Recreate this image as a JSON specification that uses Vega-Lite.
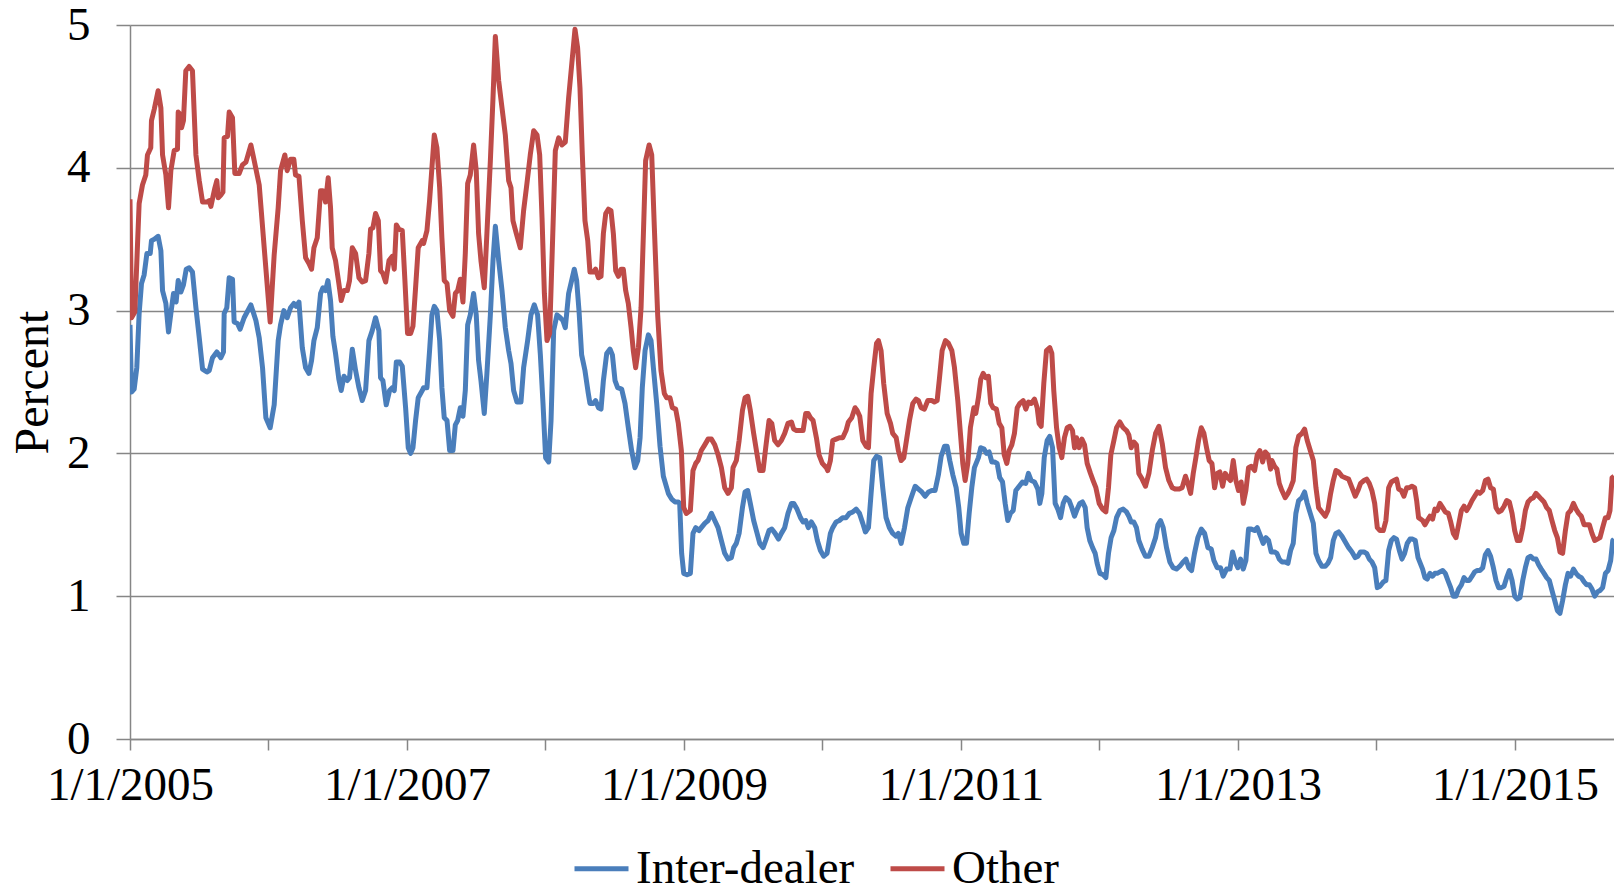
{
  "$schema": "https://vega.github.io/schema/vega-lite/v6.json",
  "width": 1484,
  "height": 714,
  "autosize": {"type": "none"},
  "padding": {"left": 130, "top": 25, "right": 0, "bottom": 146},
  "background": "white",
  "config": {"view": {"stroke": null}, "font": "Liberation Serif"},
  "datasets": {
    "other": [
      [2005.000,3.78],[2005.011,2.95],[2005.035,2.99],[2005.066,3.75],[2005.090,3.88],[2005.114,3.95],[2005.126,4.09],[2005.150,4.14],[2005.155,4.33],[2005.175,4.41],[2005.203,4.54],[2005.223,4.42],[2005.235,4.09],[2005.259,3.95],[2005.278,3.72],[2005.295,3.98],[2005.319,4.12],[2005.343,4.13],[2005.348,4.39],[2005.367,4.37],[2005.372,4.28],[2005.386,4.33],[2005.403,4.68],[2005.427,4.71],[2005.451,4.68],[2005.476,4.09],[2005.500,3.91],[2005.524,3.76],[2005.555,3.76],[2005.572,3.77],[2005.584,3.73],[2005.613,3.86],[2005.627,3.91],[2005.637,3.79],[2005.656,3.81],[2005.671,3.83],[2005.680,4.21],[2005.704,4.22],[2005.716,4.39],[2005.740,4.35],[2005.757,3.96],[2005.788,3.96],[2005.812,4.02],[2005.837,4.04],[2005.873,4.16],[2005.897,4.05],[2005.933,3.88],[2005.969,3.44],[2006.012,2.92],[2006.041,3.39],
      [2006.070,3.72],[2006.087,3.98],[2006.118,4.09],[2006.135,3.98],[2006.159,4.06],[2006.183,4.06],[2006.195,3.95],[2006.220,3.94],[2006.244,3.63],[2006.268,3.37],[2006.292,3.33],[2006.311,3.29],[2006.328,3.44],[2006.352,3.51],[2006.376,3.84],[2006.393,3.84],[2006.412,3.76],[2006.431,3.93],[2006.448,3.72],[2006.460,3.44],[2006.484,3.35],[2006.508,3.19],[2006.525,3.07],[2006.545,3.14],[2006.569,3.14],[2006.585,3.21],[2006.605,3.44],[2006.629,3.40],[2006.653,3.23],[2006.677,3.20],[2006.701,3.21],[2006.725,3.40],[2006.737,3.57],[2006.754,3.58],[2006.773,3.68],[2006.793,3.63],[2006.809,3.28],[2006.826,3.26],[2006.846,3.20],[2006.870,3.35],[2006.894,3.38],[2006.908,3.29],[2006.923,3.60],[2006.942,3.57],[2006.966,3.56],[2006.985,3.21],[2007.004,2.84],[2007.026,2.84],[2007.043,2.89],[2007.062,3.16],[2007.081,3.44],[2007.110,3.49],
      [2007.120,3.47],[2007.144,3.56],[2007.163,3.77],[2007.180,4.00],[2007.197,4.23],[2007.216,4.14],[2007.236,3.86],[2007.252,3.51],[2007.269,3.21],[2007.289,3.19],[2007.308,3.00],[2007.332,2.96],[2007.349,3.12],[2007.366,3.14],[2007.385,3.22],[2007.404,3.06],[2007.421,3.40],[2007.438,3.89],[2007.457,3.95],[2007.481,4.16],[2007.500,3.98],[2007.517,3.54],[2007.534,3.35],[2007.558,3.16],[2007.577,3.54],[2007.602,4.05],[2007.621,4.49],[2007.638,4.92],[2007.662,4.61],[2007.686,4.42],[2007.710,4.23],[2007.734,3.91],[2007.751,3.86],[2007.765,3.63],[2007.789,3.54],[2007.818,3.44],[2007.842,3.70],[2007.866,3.89],[2007.890,4.09],[2007.915,4.26],[2007.939,4.23],[2007.958,4.09],[2007.975,3.65],[2007.992,3.12],[2008.011,2.79],[2008.030,2.84],[2008.054,3.58],[2008.071,4.12],[2008.095,4.21],[2008.119,4.16],[2008.143,4.18],[2008.167,4.49],
      [2008.213,4.97],[2008.232,4.84],[2008.249,4.56],[2008.266,4.09],[2008.285,3.63],[2008.305,3.49],[2008.321,3.27],[2008.345,3.27],[2008.362,3.29],[2008.382,3.23],[2008.401,3.24],[2008.418,3.54],[2008.435,3.68],[2008.454,3.71],[2008.473,3.70],[2008.490,3.54],[2008.507,3.28],[2008.526,3.24],[2008.545,3.29],[2008.562,3.29],[2008.579,3.14],[2008.598,3.05],[2008.618,2.88],[2008.634,2.72],[2008.651,2.60],[2008.671,2.74],[2008.690,3.02],[2008.707,3.54],[2008.723,4.05],[2008.748,4.16],[2008.767,4.09],[2008.786,3.58],[2008.810,2.97],[2008.834,2.58],[2008.858,2.42],[2008.875,2.39],[2008.899,2.39],[2008.916,2.32],[2008.940,2.31],[2008.959,2.21],
      [2008.981,2.02],[2008.998,1.62],[2009.017,1.58],[2009.046,1.60],[2009.065,1.88],[2009.085,1.93],[2009.101,1.95],[2009.125,2.02],[2009.150,2.06],[2009.174,2.10],[2009.198,2.10],[2009.222,2.06],[2009.246,1.99],[2009.270,1.90],[2009.294,1.76],[2009.318,1.72],[2009.342,1.76],[2009.354,1.90],[2009.378,1.95],[2009.398,2.09],[2009.422,2.30],[2009.441,2.39],[2009.460,2.40],[2009.479,2.30],[2009.503,2.14],[2009.528,1.99],[2009.547,1.88],[2009.571,1.88],[2009.590,2.04],[2009.614,2.23],[2009.634,2.21],[2009.655,2.09],[2009.679,2.06],[2009.703,2.09],[2009.727,2.14],[2009.751,2.21],[2009.776,2.22],[2009.792,2.17],[2009.812,2.16],[2009.836,2.16],[2009.860,2.16],[2009.879,2.28],[2009.896,2.28],[2009.913,2.25],[2009.932,2.23],[2009.956,2.11],[2009.975,1.99],[2009.999,1.93],[2010.028,1.90],
      [2010.038,1.88],[2010.057,1.95],[2010.074,2.09],[2010.098,2.10],[2010.122,2.11],[2010.146,2.11],[2010.170,2.16],[2010.187,2.22],[2010.211,2.25],[2010.235,2.32],[2010.250,2.30],[2010.269,2.26],[2010.291,2.09],[2010.315,2.05],[2010.332,2.04],[2010.351,2.42],[2010.370,2.60],[2010.390,2.77],[2010.404,2.79],[2010.423,2.72],[2010.442,2.49],[2010.467,2.28],[2010.491,2.21],[2010.507,2.14],[2010.532,2.11],[2010.548,2.02],[2010.568,1.95],[2010.587,1.97],[2010.606,2.09],[2010.628,2.23],[2010.652,2.35],[2010.676,2.38],[2010.693,2.37],[2010.712,2.32],[2010.736,2.31],[2010.760,2.37],[2010.789,2.37],[2010.808,2.36],[2010.828,2.37],[2010.845,2.53],[2010.864,2.72],[2010.888,2.79],[2010.910,2.77],[2010.934,2.72],[2010.953,2.60],[2010.977,2.37],[2010.996,2.14],[2011.013,1.93],[2011.030,1.81],[2011.049,1.93],[2011.068,2.18],[2011.093,2.32],
      [2011.107,2.28],[2011.126,2.39],[2011.143,2.52],[2011.160,2.56],[2011.179,2.53],[2011.198,2.54],[2011.215,2.35],[2011.232,2.32],[2011.256,2.31],[2011.276,2.21],[2011.295,2.18],[2011.312,1.99],[2011.331,1.93],[2011.348,2.02],[2011.367,2.06],[2011.386,2.14],[2011.406,2.32],[2011.425,2.35],[2011.449,2.37],[2011.468,2.31],[2011.487,2.36],[2011.507,2.35],[2011.531,2.38],[2011.550,2.32],[2011.564,2.21],[2011.579,2.19],[2011.598,2.49],[2011.617,2.72],[2011.641,2.74],[2011.656,2.70],[2011.670,2.44],[2011.690,2.18],[2011.709,2.04],[2011.728,1.97],[2011.747,2.11],[2011.767,2.18],[2011.786,2.19],[2011.805,2.16],[2011.820,2.04],[2011.834,2.11],[2011.853,2.04],[2011.873,2.10],[2011.892,2.06],[2011.911,1.93],[2011.935,1.86],[2011.954,1.81],[2011.974,1.76],[2011.998,1.65],[2012.022,1.61],[2012.046,1.59],[2012.065,1.76],[2012.082,1.99],[2012.104,2.09],[2012.123,2.18],[2012.147,2.22],[2012.171,2.18],
      [2012.195,2.16],[2012.212,2.13],[2012.229,2.04],[2012.248,2.08],[2012.267,2.06],[2012.284,1.86],[2012.308,1.82],[2012.332,1.77],[2012.357,1.86],[2012.381,2.02],[2012.405,2.14],[2012.429,2.19],[2012.453,2.07],[2012.477,1.90],[2012.501,1.81],[2012.525,1.76],[2012.549,1.75],[2012.573,1.75],[2012.597,1.76],[2012.621,1.84],[2012.638,1.79],[2012.658,1.72],[2012.677,1.86],[2012.696,1.97],[2012.715,2.09],[2012.735,2.18],[2012.754,2.14],[2012.773,2.04],[2012.792,1.95],[2012.812,1.93],[2012.831,1.76],[2012.850,1.86],[2012.869,1.87],[2012.889,1.77],[2012.908,1.86],[2012.927,1.83],[2012.946,1.81],[2012.966,1.95],[2012.985,1.81],[2013.004,1.74],[2013.023,1.80],[2013.038,1.65],[2013.057,1.74],[2013.076,1.90],[2013.096,1.91],[2013.120,1.88],[2013.139,1.99],[2013.158,2.02],[2013.178,1.94],[2013.197,2.01],[2013.216,1.99],[2013.235,1.89],
      [2013.245,1.95],[2013.264,1.91],[2013.281,1.89],[2013.298,1.79],[2013.317,1.74],[2013.341,1.69],[2013.361,1.72],[2013.380,1.76],[2013.399,1.81],[2013.418,2.04],[2013.438,2.12],[2013.462,2.14],[2013.481,2.17],[2013.500,2.09],[2013.522,2.02],[2013.544,1.95],[2013.563,1.76],[2013.582,1.62],[2013.606,1.59],[2013.630,1.56],[2013.649,1.60],[2013.669,1.72],[2013.688,1.81],[2013.707,1.88],[2013.727,1.87],[2013.751,1.84],[2013.775,1.83],[2013.799,1.82],[2013.823,1.76],[2013.847,1.70],[2013.866,1.74],[2013.885,1.79],[2013.910,1.81],[2013.929,1.82],[2013.948,1.79],[2013.967,1.74],[2013.987,1.65],[2014.006,1.48],[2014.025,1.46],[2014.049,1.46],[2014.068,1.53],[2014.088,1.76],[2014.107,1.80],[2014.126,1.81],[2014.145,1.82],[2014.160,1.75],[2014.179,1.74],[2014.198,1.70],[2014.218,1.76],[2014.237,1.76],[2014.256,1.77],[2014.275,1.76],[2014.290,1.67],[2014.304,1.55],
      [2014.333,1.53],[2014.350,1.50],[2014.367,1.53],[2014.386,1.56],[2014.405,1.54],[2014.422,1.61],[2014.439,1.60],[2014.458,1.65],[2014.478,1.62],[2014.497,1.59],[2014.519,1.58],[2014.536,1.52],[2014.555,1.44],[2014.574,1.41],[2014.593,1.50],[2014.613,1.60],[2014.632,1.63],[2014.651,1.60],[2014.670,1.63],[2014.690,1.67],[2014.709,1.70],[2014.728,1.73],[2014.747,1.72],[2014.767,1.74],[2014.786,1.81],[2014.805,1.82],[2014.824,1.76],[2014.844,1.75],[2014.863,1.62],[2014.882,1.59],[2014.901,1.60],[2014.921,1.63],[2014.940,1.67],[2014.959,1.66],[2014.979,1.58],[2014.998,1.46],[2015.017,1.39],[2015.036,1.39],[2015.056,1.48],[2015.075,1.60],[2015.094,1.66],[2015.113,1.68],[2015.133,1.69],[2015.152,1.72],[2015.171,1.70],[2015.190,1.68],[2015.210,1.66],[2015.229,1.62],[2015.248,1.60],[2015.267,1.53],[2015.287,1.46],[2015.306,1.41],[2015.325,1.31],[2015.344,1.30],[2015.364,1.46],[2015.383,1.58],[2015.402,1.60],[2015.422,1.65],[2015.441,1.61],[2015.460,1.58],[2015.479,1.56],[2015.499,1.50],[2015.518,1.50],[2015.537,1.50],[2015.556,1.44],[2015.576,1.39],[2015.595,1.40],[2015.614,1.41],[2015.633,1.48],[2015.653,1.55],[2015.672,1.55],[2015.686,1.60],[2015.701,1.83],[2015.715,1.84]
    ],
    "dealer": [
      [2005.000,2.90],[2005.011,2.43],[2005.030,2.45],[2005.049,2.60],[2005.066,2.98],[2005.083,3.19],[2005.102,3.25],[2005.122,3.40],[2005.146,3.40],[2005.155,3.49],[2005.175,3.50],[2005.203,3.52],[2005.223,3.42],[2005.235,3.14],[2005.259,3.05],[2005.278,2.85],[2005.295,2.98],[2005.314,3.12],[2005.333,3.06],[2005.348,3.21],[2005.367,3.13],[2005.386,3.18],[2005.406,3.29],[2005.427,3.30],[2005.451,3.27],[2005.476,3.02],[2005.500,2.81],[2005.524,2.59],[2005.555,2.57],[2005.572,2.58],[2005.596,2.67],[2005.627,2.71],[2005.656,2.67],[2005.675,2.71],[2005.680,2.98],[2005.699,3.02],[2005.716,3.23],[2005.740,3.22],[2005.752,2.92],[2005.776,2.91],[2005.795,2.87],[2005.824,2.95],[2005.873,3.04],[2005.909,2.93],[2005.933,2.81],[2005.957,2.60],[2005.981,2.25],[2006.012,2.18],[2006.041,2.34],
      [2006.070,2.79],[2006.087,2.90],[2006.111,3.00],[2006.135,2.95],[2006.159,3.02],[2006.183,3.05],[2006.200,3.03],[2006.220,3.06],[2006.244,2.74],[2006.268,2.60],[2006.292,2.56],[2006.311,2.65],[2006.328,2.79],[2006.352,2.88],[2006.376,3.12],[2006.393,3.16],[2006.412,3.14],[2006.429,3.21],[2006.448,3.07],[2006.465,2.82],[2006.484,2.70],[2006.508,2.52],[2006.525,2.44],[2006.545,2.54],[2006.569,2.51],[2006.585,2.53],[2006.605,2.73],[2006.629,2.58],[2006.653,2.46],[2006.677,2.37],[2006.701,2.44],[2006.725,2.79],[2006.749,2.86],[2006.773,2.95],[2006.797,2.86],[2006.809,2.53],[2006.826,2.51],[2006.850,2.34],[2006.874,2.44],[2006.894,2.46],[2006.908,2.44],[2006.923,2.64],[2006.947,2.64],[2006.966,2.61],[2006.990,2.32],[2007.009,2.04],[2007.026,2.00],[2007.043,2.04],[2007.062,2.23],[2007.081,2.39],[2007.110,2.44],
      [2007.120,2.46],[2007.144,2.46],[2007.163,2.72],[2007.180,2.97],[2007.197,3.03],[2007.216,3.00],[2007.236,2.79],[2007.252,2.46],[2007.269,2.25],[2007.289,2.23],[2007.308,2.02],[2007.332,2.02],[2007.349,2.20],[2007.366,2.23],[2007.385,2.32],[2007.404,2.26],[2007.421,2.44],[2007.438,2.90],[2007.457,2.97],[2007.481,3.12],[2007.500,2.97],[2007.517,2.65],[2007.534,2.51],[2007.558,2.28],[2007.577,2.56],[2007.602,2.97],[2007.621,3.35],[2007.638,3.59],[2007.662,3.35],[2007.686,3.14],[2007.710,2.88],[2007.734,2.72],[2007.751,2.63],[2007.770,2.44],[2007.794,2.36],[2007.823,2.36],[2007.842,2.60],[2007.871,2.79],[2007.895,2.97],[2007.919,3.04],[2007.943,2.97],[2007.963,2.69],[2007.982,2.35],[2008.001,1.97],[2008.023,1.94],[2008.040,2.23],[2008.059,2.86],[2008.083,2.97],[2008.107,2.95],[2008.126,2.93],[2008.143,2.88],[2008.167,3.12],
      [2008.208,3.29],[2008.225,3.21],[2008.242,3.00],[2008.261,2.69],[2008.285,2.58],[2008.309,2.42],[2008.321,2.35],[2008.345,2.35],[2008.362,2.37],[2008.382,2.32],[2008.401,2.31],[2008.418,2.51],[2008.442,2.70],[2008.466,2.73],[2008.483,2.69],[2008.502,2.51],[2008.521,2.46],[2008.550,2.45],[2008.574,2.35],[2008.598,2.18],[2008.622,2.02],[2008.646,1.90],[2008.666,1.95],[2008.683,2.11],[2008.699,2.46],[2008.719,2.72],[2008.743,2.83],[2008.762,2.79],[2008.779,2.60],[2008.803,2.35],[2008.827,2.05],[2008.851,1.84],[2008.887,1.72],[2008.911,1.68],[2008.935,1.66],[2008.959,1.66],
      [2008.969,1.65],[2008.983,1.30],[2008.998,1.16],[2009.022,1.15],[2009.046,1.16],[2009.065,1.44],[2009.085,1.48],[2009.109,1.46],[2009.125,1.48],[2009.150,1.51],[2009.174,1.53],[2009.198,1.58],[2009.222,1.53],[2009.246,1.48],[2009.270,1.39],[2009.294,1.30],[2009.318,1.26],[2009.342,1.27],[2009.359,1.34],[2009.378,1.37],[2009.398,1.44],[2009.422,1.62],[2009.441,1.73],[2009.460,1.74],[2009.479,1.65],[2009.503,1.53],[2009.528,1.44],[2009.547,1.37],[2009.571,1.34],[2009.590,1.39],[2009.614,1.46],[2009.634,1.47],[2009.658,1.44],[2009.682,1.40],[2009.703,1.44],[2009.727,1.48],[2009.751,1.58],[2009.776,1.65],[2009.792,1.65],[2009.816,1.61],[2009.841,1.55],[2009.860,1.52],[2009.879,1.53],[2009.898,1.48],[2009.920,1.52],[2009.944,1.48],[2009.963,1.39],[2009.985,1.32],[2010.009,1.28],[2010.033,1.30],
      [2010.057,1.44],[2010.074,1.48],[2010.098,1.52],[2010.122,1.53],[2010.146,1.55],[2010.170,1.55],[2010.194,1.58],[2010.219,1.59],[2010.243,1.61],[2010.267,1.58],[2010.291,1.51],[2010.310,1.45],[2010.332,1.48],[2010.351,1.72],[2010.370,1.95],[2010.390,1.98],[2010.414,1.97],[2010.435,1.76],[2010.459,1.55],[2010.483,1.48],[2010.507,1.44],[2010.532,1.42],[2010.548,1.44],[2010.568,1.37],[2010.592,1.48],[2010.616,1.62],[2010.640,1.69],[2010.669,1.77],[2010.693,1.75],[2010.717,1.73],[2010.741,1.70],[2010.765,1.73],[2010.789,1.74],[2010.813,1.74],[2010.837,1.85],[2010.857,1.98],[2010.881,2.05],[2010.900,2.05],[2010.919,1.95],[2010.941,1.85],[2010.965,1.76],[2010.984,1.62],[2011.001,1.44],[2011.020,1.37],[2011.040,1.37],[2011.059,1.58],[2011.078,1.76],[2011.097,1.90],
      [2011.126,1.97],[2011.143,2.04],[2011.167,2.03],[2011.184,2.00],[2011.203,2.01],[2011.223,1.94],[2011.242,1.94],[2011.261,1.93],[2011.280,1.83],[2011.300,1.80],[2011.319,1.65],[2011.338,1.53],[2011.357,1.58],[2011.377,1.60],[2011.396,1.74],[2011.420,1.77],[2011.444,1.80],[2011.468,1.79],[2011.487,1.86],[2011.507,1.81],[2011.531,1.80],[2011.555,1.75],[2011.569,1.65],[2011.584,1.72],[2011.601,1.97],[2011.622,2.09],[2011.641,2.12],[2011.661,2.04],[2011.680,1.65],[2011.699,1.61],[2011.719,1.55],[2011.738,1.65],[2011.757,1.69],[2011.781,1.67],[2011.800,1.62],[2011.820,1.56],[2011.839,1.61],[2011.858,1.65],[2011.877,1.66],[2011.897,1.62],[2011.911,1.48],[2011.930,1.39],[2011.950,1.34],[2011.969,1.30],[2011.983,1.23],[2012.003,1.16],[2012.027,1.15],[2012.046,1.13],[2012.065,1.30],[2012.084,1.41],[2012.104,1.46],[2012.123,1.55],[2012.147,1.60],[2012.171,1.61],
      [2012.195,1.59],[2012.212,1.56],[2012.229,1.52],[2012.248,1.52],[2012.267,1.48],[2012.284,1.39],[2012.308,1.33],[2012.332,1.28],[2012.357,1.28],[2012.381,1.34],[2012.405,1.41],[2012.422,1.50],[2012.441,1.53],[2012.460,1.48],[2012.484,1.34],[2012.508,1.24],[2012.532,1.20],[2012.556,1.19],[2012.580,1.21],[2012.605,1.24],[2012.624,1.26],[2012.645,1.20],[2012.665,1.18],[2012.686,1.30],[2012.710,1.41],[2012.735,1.47],[2012.759,1.44],[2012.783,1.34],[2012.807,1.33],[2012.826,1.25],[2012.850,1.20],[2012.874,1.20],[2012.893,1.14],[2012.918,1.19],[2012.942,1.19],[2012.961,1.31],[2012.980,1.24],[2012.999,1.20],[2013.019,1.26],[2013.038,1.19],[2013.057,1.25],[2013.076,1.47],[2013.096,1.47],[2013.120,1.46],[2013.139,1.48],[2013.163,1.42],[2013.182,1.37],[2013.202,1.41],[2013.221,1.39],[2013.240,1.31],
      [2013.264,1.31],[2013.281,1.30],[2013.298,1.26],[2013.317,1.24],[2013.341,1.24],[2013.361,1.23],[2013.380,1.32],[2013.399,1.37],[2013.418,1.58],[2013.438,1.67],[2013.462,1.69],[2013.481,1.73],[2013.500,1.65],[2013.522,1.58],[2013.544,1.51],[2013.563,1.30],[2013.582,1.25],[2013.606,1.21],[2013.630,1.21],[2013.649,1.23],[2013.669,1.27],[2013.688,1.39],[2013.707,1.44],[2013.727,1.45],[2013.751,1.42],[2013.775,1.38],[2013.799,1.34],[2013.823,1.31],[2013.847,1.27],[2013.866,1.28],[2013.885,1.31],[2013.910,1.31],[2013.929,1.30],[2013.948,1.26],[2013.967,1.24],[2013.987,1.20],[2014.006,1.06],[2014.025,1.07],[2014.049,1.10],[2014.068,1.11],[2014.088,1.32],[2014.107,1.39],[2014.126,1.41],[2014.145,1.40],[2014.165,1.32],[2014.184,1.26],[2014.203,1.30],[2014.222,1.37],[2014.242,1.40],[2014.261,1.40],[2014.280,1.39],[2014.300,1.27],
      [2014.333,1.19],[2014.350,1.13],[2014.367,1.12],[2014.386,1.16],[2014.405,1.14],[2014.422,1.16],[2014.439,1.16],[2014.458,1.17],[2014.478,1.18],[2014.497,1.16],[2014.516,1.11],[2014.536,1.06],[2014.555,1.00],[2014.574,1.00],[2014.593,1.05],[2014.613,1.08],[2014.632,1.13],[2014.651,1.11],[2014.670,1.11],[2014.690,1.14],[2014.709,1.17],[2014.728,1.18],[2014.747,1.18],[2014.767,1.20],[2014.786,1.29],[2014.805,1.32],[2014.824,1.28],[2014.844,1.20],[2014.863,1.11],[2014.882,1.06],[2014.901,1.06],[2014.921,1.07],[2014.940,1.13],[2014.959,1.18],[2014.979,1.11],[2014.998,1.00],[2015.017,0.98],[2015.036,0.99],[2015.056,1.11],[2015.075,1.20],[2015.094,1.27],[2015.113,1.28],[2015.133,1.26],[2015.152,1.26],[2015.171,1.22],[2015.190,1.19],[2015.210,1.16],[2015.229,1.13],[2015.248,1.11],[2015.267,1.04],[2015.287,0.97],[2015.306,0.90],[2015.325,0.88],[2015.344,0.97],[2015.364,1.08],[2015.383,1.16],[2015.402,1.14],[2015.422,1.19],[2015.441,1.16],[2015.460,1.14],[2015.479,1.13],[2015.499,1.10],[2015.518,1.08],[2015.537,1.08],[2015.556,1.05],[2015.576,1.00],[2015.595,1.03],[2015.614,1.04],[2015.633,1.06],[2015.653,1.16],[2015.672,1.18],[2015.691,1.25],[2015.706,1.39],[2015.715,1.40]
    ]
  },
  "layer": [
    {
      "data": {"name": "dealer"},
      "transform": [
        {"calculate": "datum[0]", "as": "year"},
        {"calculate": "datum[1]", "as": "percent"},
        {"calculate": "'Inter-dealer'", "as": "series"}
      ],
      "mark": {"type": "line", "strokeWidth": 5, "strokeJoin": "round", "clip": true},
      "encoding": {
        "x": {"field": "year", "type": "quantitative"},
        "y": {"field": "percent", "type": "quantitative"},
        "color": {"field": "series", "type": "nominal"}
      }
    },
    {
      "data": {"name": "other"},
      "transform": [
        {"calculate": "datum[0]", "as": "year"},
        {"calculate": "datum[1]", "as": "percent"},
        {"calculate": "'Other'", "as": "series"}
      ],
      "mark": {"type": "line", "strokeWidth": 5, "strokeJoin": "round", "clip": true},
      "encoding": {
        "x": {"field": "year", "type": "quantitative"},
        "y": {"field": "percent", "type": "quantitative"},
        "color": {"field": "series", "type": "nominal"}
      }
    }
  ],
  "encoding": {
    "x": {
      "field": "year",
      "type": "quantitative",
      "scale": {"domain": [2005, 2015.715], "nice": false, "zero": false},
      "axis": {
        "values": [2005, 2006, 2007, 2008, 2009, 2010, 2011, 2012, 2013, 2014, 2015],
        "labelExpr": "datum.value % 2 == 1 ? '1/1/' + datum.value : ''",
        "title": null,
        "grid": false,
        "domainColor": "#868686",
        "domainWidth": 1.5,
        "tickColor": "#868686",
        "tickWidth": 1.5,
        "tickSize": 11,
        "labelFont": "Liberation Serif",
        "labelFontSize": 47,
        "labelColor": "black",
        "labelPadding": 12,
        "labelFlush": false,
        "labelOverlap": false
      }
    },
    "y": {
      "field": "percent",
      "type": "quantitative",
      "scale": {"domain": [0, 5], "nice": false},
      "axis": {
        "values": [0, 1, 2, 3, 4, 5],
        "format": "d",
        "title": "Percent",
        "titleFont": "Liberation Serif",
        "titleFontSize": 48,
        "titleFontWeight": "normal",
        "titleColor": "black",
        "titleAngle": 270,
        "titleX": -83,
        "titleY": 357,
        "titleAlign": "center",
        "titleBaseline": "alphabetic",
        "grid": true,
        "gridColor": "#868686",
        "gridWidth": 1.5,
        "domainColor": "#868686",
        "domainWidth": 1.5,
        "tickColor": "#868686",
        "tickWidth": 1.5,
        "tickSize": 14,
        "labelFont": "Liberation Serif",
        "labelFontSize": 47,
        "labelColor": "black",
        "labelPadding": 26
      }
    },
    "color": {
      "field": "series",
      "type": "nominal",
      "scale": {"domain": ["Inter-dealer", "Other"], "range": ["#4A7EBB", "#BE4B48"]},
      "legend": {
        "title": null,
        "orient": "none",
        "direction": "horizontal",
        "legendX": 442,
        "legendY": 814,
        "symbolType": "stroke",
        "symbolSize": 2916,
        "symbolStrokeWidth": 5,
        "labelFont": "Liberation Serif",
        "labelFontSize": 47,
        "labelColor": "black",
        "labelLimit": 0,
        "labelOffset": 5,
        "columnPadding": 25
      }
    }
  }
}
